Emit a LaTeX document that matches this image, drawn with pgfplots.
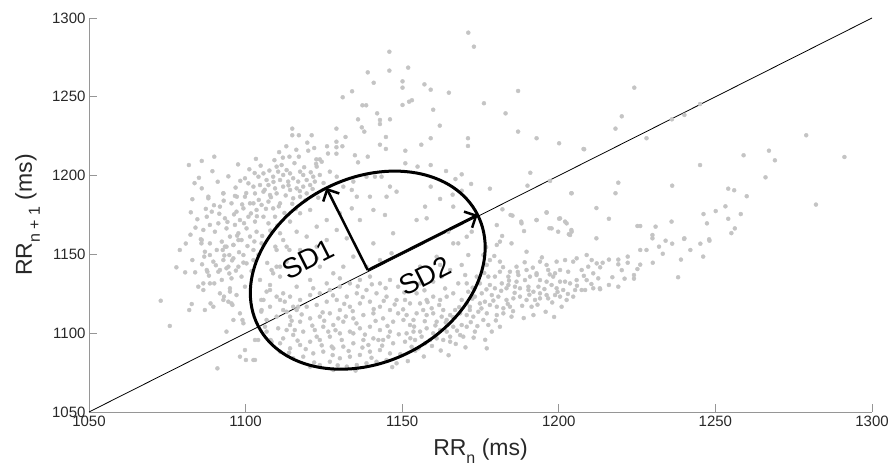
\documentclass[border=0pt]{standalone}
\usepackage{pgfplots}
\pgfplotsset{compat=1.18}
\usepackage{fontspec}
\setmainfont{Liberation Sans}
\usetikzlibrary{arrows.meta,shapes.geometric}
\definecolor{dotgray}{RGB}{196,196,196}
\definecolor{axgray}{RGB}{150,150,150}
\definecolor{txtgray}{RGB}{40,40,40}
\pgfplotstableread{
x y
1145.9 1278.6
1139.0 1265.5
1145.9 1266.6
1140.9 1258.9
1134.0 1253.5
1131.0 1249.7
1137.3 1244.6
1138.5 1244.6
1142.0 1239.5
1135.9 1235.7
1142.9 1235.3
1146.1 1235.7
1142.9 1232.7
1137.1 1230.6
1137.9 1227.9
1129.0 1229.8
1114.9 1229.8
1114.9 1225.6
1117.0 1225.6
1121.1 1225.6
1131.9 1224.5
1144.8 1224.5
1129.0 1221.5
1129.0 1218.0
1129.0 1213.9
1126.0 1218.6
1130.9 1218.6
1113.0 1218.6
1121.9 1217.5
1120.0 1215.8
1142.9 1219.6
1144.8 1216.9
1114.0 1212.0
1117.0 1212.0
1134.9 1212.9
1139.0 1212.0
1135.9 1208.4
1122.6 1210.3
1123.7 1210.3
1122.5 1207.4
1090.0 1212.0
1086.0 1209.3
1081.9 1206.7
1171.1 1290.7
1172.9 1281.8
1151.9 1268.5
1150.1 1259.8
1150.1 1255.8
1157.1 1257.9
1159.1 1254.5
1164.9 1252.6
1150.1 1244.8
1152.2 1246.9
1153.1 1247.8
1187.0 1253.7
1176.1 1245.9
1159.9 1241.8
1183.0 1239.5
1162.0 1231.7
1187.0 1227.9
1159.1 1223.7
1156.1 1219.6
1171.0 1223.7
1171.0 1218.8
1192.9 1223.7
1200.1 1220.5
1207.9 1216.9
1151.0 1215.8
1151.0 1207.8
1154.9 1205.7
1159.1 1206.7
1164.0 1202.9
1169.0 1200.8
1167.0 1197.8
1172.0 1194.7
1159.1 1193.0
1162.1 1185.2
1166.1 1187.9
1169.0 1190.4
1178.0 1191.7
1190.9 1201.8
1190.0 1193.6
1197.2 1196.6
1204.1 1188.8
1224.1 1255.8
1220.1 1237.6
1218.1 1229.8
1245.1 1245.4
1240.1 1238.5
1236.1 1235.7
1228.0 1223.7
1279.0 1225.6
1259.0 1212.9
1267.1 1215.8
1269.0 1209.7
1245.1 1206.7
1266.0 1198.9
1219.0 1195.5
1218.1 1188.8
1236.2 1193.6
1254.1 1191.7
1256.0 1190.7
1260.0 1186.9
1282.1 1181.6
1291.2 1211.8
1253.2 1180.5
1250.1 1177.5
1258.1 1175.6
1254.1 1172.6
1256.2 1166.5
1255.1 1163.5
1246.2 1175.6
1247.3 1169.7
1236.0 1170.8
1230.9 1167.6
1229.9 1162.3
1229.9 1160.2
1225.1 1168.0
1226.0 1168.0
1212.0 1179.4
1216.0 1172.6
1204.0 1188.8
1204.0 1165.5
1203.2 1162.8
1208.1 1216.7
1196.1 1176.7
1192.9 1171.8
1197.0 1166.6
1200.1 1172.6
1202.0 1170.8
1188.0 1170.8
1188.9 1164.8
1185.2 1174.6
1182.0 1178.6
1212.0 1160.2
1240.1 1160.2
1248.0 1159.6
1234.1 1158.7
1240.0 1159.8
1236.2 1156.8
1232.0 1154.9
1233.2 1150.4
1226.0 1152.8
1228.0 1152.8
1245.2 1156.8
1248.1 1158.7
1242.0 1152.8
1246.1 1148.6
1239.0 1146.7
1238.1 1135.5
1230.0 1144.7
1226.0 1143.5
1225.1 1140.7
1222.0 1148.6
1222.0 1144.7
1219.0 1146.7
1219.0 1143.7
1216.0 1146.7
1214.0 1144.7
1213.2 1141.8
1220.1 1140.0
1217.1 1135.5
1221.0 1134.6
1224.0 1136.9
1224.0 1134.6
1216.0 1130.6
1219.0 1129.5
1213.2 1127.9
1180.2 1168.6
1184.6 1175.0
1188.1 1169.7
1192.9 1171.8
1196.1 1176.5
1200.4 1172.9
1202.5 1169.7
1204.1 1164.4
1203.6 1162.3
1199.8 1164.4
1197.7 1166.5
1189.7 1151.7
1194.0 1145.4
1196.1 1143.3
1199.3 1145.4
1202.0 1146.4
1204.6 1145.4
1205.7 1147.5
1208.9 1149.6
1210.5 1146.4
1212.1 1144.3
1181.2 1158.1
1180.2 1156.0
1184.9 1157.0
1181.2 1145.4
1184.4 1139.0
1186.5 1142.2
1187.1 1136.9
1189.7 1140.1
1190.8 1135.9
1192.9 1138.0
1194.0 1133.7
1196.6 1140.1
1198.2 1135.9
1200.4 1132.7
1199.3 1128.5
1202.0 1132.7
1203.6 1131.6
1205.7 1133.7
1207.3 1127.4
1208.9 1133.7
1211.0 1138.0
1212.6 1134.8
1213.1 1128.5
1211.0 1128.5
1208.4 1127.4
1205.2 1127.4
1202.5 1121.1
1200.4 1123.2
1198.8 1124.2
1196.1 1124.2
1194.0 1125.3
1191.9 1126.3
1190.3 1127.4
1187.6 1128.5
1186.0 1129.5
1183.9 1130.6
1181.8 1131.6
1179.6 1128.5
1178.0 1130.6
1177.5 1135.9
1178.6 1124.2
1180.7 1123.2
1183.3 1121.1
1185.5 1122.1
1187.6 1123.2
1189.7 1121.1
1192.4 1121.1
1194.0 1122.1
1196.6 1122.1
1184.4 1116.8
1182.3 1115.8
1180.2 1116.8
1178.0 1117.9
1176.4 1120.0
1177.0 1112.6
1180.2 1111.5
1182.3 1112.6
1184.9 1110.5
1191.9 1111.5
1200.9 1116.8
1181.2 1104.1
1178.6 1101.0
1177.0 1090.4
1175.9 1108.4
1177.5 1105.2
1174.3 1113.6
1174.8 1118.9
1172.7 1110.5
1171.6 1116.8
1173.2 1123.2
1175.4 1125.3
1174.8 1131.6
1177.0 1143.3
1178.0 1146.4
1175.9 1149.6
1192.9 1136.9
1193.5 1129.5
1189.2 1133.7
1190.3 1129.5
1186.5 1132.7
1183.9 1135.9
1181.2 1139.0
1179.6 1135.9
1183.3 1128.5
1196.1 1132.7
1197.7 1130.6
1200.4 1140.1
1198.8 1138.0
1203.0 1139.0
1207.3 1140.1
1209.4 1142.2
1204.6 1123.2
1201.4 1127.4
1191.3 1116.8
1167.9 1131.6
1169.0 1121.1
1170.6 1118.9
1171.6 1114.7
1170.6 1111.5
1168.5 1112.6
1166.9 1114.7
1165.3 1111.5
1164.2 1108.4
1162.6 1110.5
1161.0 1107.3
1159.9 1112.6
1159.4 1115.8
1157.8 1111.5
1156.7 1114.7
1155.7 1118.9
1154.6 1112.6
1153.6 1108.4
1152.5 1105.2
1151.4 1111.5
1150.4 1108.4
1155.7 1101.0
1157.8 1103.1
1159.9 1099.9
1162.1 1102.0
1164.2 1101.0
1166.3 1104.1
1169.0 1105.2
1170.6 1104.1
1168.5 1098.8
1165.3 1097.8
1163.1 1095.7
1161.0 1096.7
1158.9 1095.7
1156.2 1097.8
1154.1 1095.7
1153.6 1101.0
1151.4 1099.9
1150.9 1094.6
1153.0 1091.4
1155.2 1090.4
1157.3 1093.6
1165.3 1094.6
1169.5 1097.8
1159.9 1123.2
1157.8 1121.1
1154.6 1125.3
1152.5 1118.9
1150.9 1121.1
1170.6 1131.6
1166.3 1125.3
1164.2 1123.2
1162.1 1121.1
1165.3 1140.1
1162.6 1135.9
1159.9 1132.7
1155.7 1131.6
1169.0 1143.3
1171.1 1149.6
1166.3 1157.0
1167.9 1157.0
1154.6 1171.8
1157.8 1172.9
1157.3 1180.3
1166.3 1180.3
1164.7 1164.4
1170.6 1161.2
1172.2 1164.4
1161.0 1148.5
1162.1 1143.3
1155.7 1142.2
1173.8 1135.9
1171.1 1126.3
1163.1 1114.7
1173.2 1101.0
1089.2 1177.1
1091.8 1180.3
1095.5 1182.4
1097.1 1177.1
1099.3 1179.2
1101.4 1182.4
1103.5 1178.2
1105.1 1181.4
1107.3 1183.5
1108.8 1179.2
1111.0 1182.4
1093.4 1172.9
1091.3 1169.7
1088.6 1168.7
1086.5 1165.5
1090.2 1164.4
1093.9 1166.5
1096.6 1168.7
1098.2 1171.8
1100.9 1173.9
1103.0 1170.8
1105.7 1173.9
1107.3 1169.7
1109.4 1173.9
1100.3 1166.5
1097.7 1163.4
1095.0 1161.3
1092.4 1158.1
1088.6 1157.0
1087.0 1151.7
1090.8 1152.8
1093.4 1154.9
1096.1 1156.0
1098.7 1159.1
1101.4 1161.3
1103.5 1164.4
1105.1 1157.0
1102.5 1152.8
1099.3 1149.6
1096.1 1147.5
1092.9 1146.4
1089.7 1145.4
1087.6 1140.1
1091.3 1139.0
1094.5 1142.2
1097.7 1142.2
1100.3 1144.3
1102.5 1146.4
1098.7 1135.9
1095.5 1134.8
1092.4 1133.8
1088.6 1131.6
1086.5 1127.4
1091.8 1125.3
1095.0 1128.5
1097.1 1124.2
1099.8 1129.5
1092.9 1121.1
1095.5 1118.9
1089.7 1116.8
1087.0 1114.7
1098.2 1112.6
1099.3 1106.3
1096.1 1108.4
1093.9 1101.0
1102.5 1083.0
1098.2 1085.1
1099.8 1089.3
1103.0 1095.7
1086.5 1131.6
1086.0 1159.1
1087.6 1173.9
1102.5 1182.4
1108.3 1140.1
1111.0 1142.2
1113.1 1145.4
1117.4 1152.8
1119.5 1161.3
1122.7 1167.6
1125.9 1171.8
1129.1 1165.5
1132.3 1160.2
1134.4 1148.6
1131.2 1142.2
1128.0 1138.0
1123.7 1142.2
1120.6 1133.8
1116.3 1129.5
1112.0 1125.3
1107.8 1127.4
1105.7 1121.1
1104.6 1133.8
1113.1 1154.9
1109.9 1152.8
1117.4 1176.1
1120.6 1178.2
1114.2 1170.8
1111.0 1163.4
1116.3 1164.4
1122.7 1154.9
1125.9 1159.1
1130.1 1176.1
1133.9 1179.2
1136.5 1171.8
1121.6 1128.5
1125.9 1131.6
1130.1 1134.8
1122.7 1147.5
1140.8 1178.2
1144.5 1175.0
1147.1 1163.4
1140.8 1157.0
1142.9 1146.4
1138.6 1142.2
1146.6 1150.7
1105.1 1114.7
1107.8 1116.8
1111.0 1121.1
1114.2 1123.2
1117.4 1121.1
1120.6 1124.2
1123.7 1125.3
1126.9 1127.4
1130.1 1129.5
1133.3 1131.6
1136.5 1133.8
1139.7 1135.9
1142.9 1131.6
1146.1 1133.8
1148.7 1129.5
1106.7 1108.4
1109.9 1110.5
1113.1 1113.6
1116.3 1114.7
1119.5 1116.8
1122.7 1117.9
1125.9 1120.0
1129.1 1121.1
1132.3 1123.2
1135.5 1125.3
1138.6 1127.4
1141.8 1125.3
1145.0 1123.2
1148.2 1121.1
1106.7 1101.0
1110.4 1103.1
1114.2 1105.2
1117.4 1107.3
1120.6 1109.4
1123.7 1110.5
1126.9 1112.6
1130.1 1114.7
1133.3 1116.8
1136.5 1118.9
1139.7 1120.0
1142.9 1116.8
1146.1 1114.7
1148.7 1112.6
1108.3 1094.6
1112.0 1096.7
1115.2 1098.9
1118.4 1101.0
1122.1 1102.0
1124.8 1104.1
1128.0 1105.2
1131.2 1107.3
1134.4 1109.4
1137.6 1111.5
1140.8 1112.6
1143.9 1109.4
1147.1 1107.3
1111.0 1088.3
1114.2 1090.4
1117.4 1092.5
1120.6 1094.6
1123.7 1095.7
1126.9 1097.8
1130.1 1099.9
1133.3 1101.0
1136.5 1103.1
1139.7 1104.1
1142.9 1102.0
1146.1 1101.0
1115.2 1084.1
1118.4 1085.1
1121.6 1087.2
1124.8 1088.3
1128.0 1090.4
1131.2 1091.5
1134.4 1093.6
1137.6 1095.7
1140.8 1096.7
1143.9 1095.7
1147.1 1093.6
1120.6 1078.8
1123.7 1079.8
1126.9 1081.9
1130.1 1084.1
1133.3 1085.1
1136.5 1086.2
1139.7 1088.3
1142.9 1089.3
1146.1 1087.2
1128.0 1076.7
1132.3 1078.8
1135.5 1079.8
1138.6 1080.9
1141.8 1081.9
1145.0 1083.0
1148.2 1080.9
1122.7 1097.8
1126.4 1101.0
1129.6 1109.4
1134.4 1099.9
1139.2 1092.5
1142.4 1095.7
1145.6 1097.8
1127.5 1091.5
1130.7 1095.7
1109.9 1205.7
1111.5 1206.7
1113.1 1203.5
1110.4 1202.5
1112.0 1200.4
1114.2 1201.4
1115.2 1198.3
1117.4 1202.5
1118.4 1200.4
1119.5 1197.2
1116.8 1196.2
1113.6 1196.2
1111.0 1197.2
1108.8 1199.3
1106.7 1197.2
1104.1 1199.3
1105.7 1201.4
1099.8 1198.3
1100.9 1195.1
1102.5 1193.0
1104.6 1194.0
1107.3 1194.0
1109.4 1191.9
1112.0 1193.0
1114.2 1190.9
1109.9 1188.7
1107.8 1187.7
1105.7 1189.8
1103.0 1188.7
1116.3 1191.9
1118.4 1193.0
1120.6 1194.0
1121.6 1199.3
1123.7 1200.4
1122.7 1205.7
1124.3 1208.8
1126.9 1202.5
1122.1 1196.2
1119.5 1188.7
1117.4 1186.6
1115.2 1185.6
1092.9 1188.7
1096.6 1187.1
1099.8 1186.6
1088.1 1186.6
1086.0 1191.9
1129.1 1199.3
1131.2 1193.0
1134.4 1196.2
1133.9 1190.9
1135.5 1186.6
1138.6 1199.3
1141.3 1199.3
1143.4 1199.3
1146.1 1193.0
1148.2 1189.8
1145.0 1186.6
1139.7 1186.6
1072.9 1120.6
1075.8 1104.6
1077.9 1141.8
1079.0 1152.8
1080.7 1138.6
1083.9 1138.6
1082.0 1114.7
1082.8 1118.5
1083.0 1146.4
1084.9 1129.5
1085.7 1159.6
1085.9 1157.0
1087.8 1139.0
1088.8 1118.9
1086.8 1148.6
1088.6 1149.6
1090.0 1131.6
1091.0 1077.7
1091.8 1140.1
1092.7 1152.8
1093.9 1154.9
1093.1 1123.2
1095.0 1126.4
1094.5 1120.0
1095.8 1117.9
1093.9 1141.2
1094.8 1149.6
1096.1 1156.0
1097.7 1159.1
1096.9 1139.7
1099.0 1108.4
1100.1 1083.0
1103.0 1083.0
1099.3 1144.8
1104.0 1095.7
1105.0 1121.1
1105.0 1113.7
1106.7 1126.4
1106.2 1104.1
1108.0 1095.7
1111.0 1093.6
1109.9 1123.2
1112.5 1120.0
1112.0 1114.7
1114.2 1110.5
1115.2 1116.8
1113.1 1102.0
1115.7 1102.0
1116.8 1116.8
1108.8 1138.0
1111.0 1135.9
1107.8 1130.6
1109.9 1142.2
1109.5 1154.9
1112.0 1159.1
1114.0 1152.8
1082.5 1176.7
1084.0 1167.0
1083.0 1185.0
1088.1 1185.6
1092.9 1188.8
1097.2 1186.6
1096.3 1175.4
1098.9 1181.7
1101.7 1176.0
1104.2 1184.6
1106.5 1178.9
1108.1 1186.3
1110.6 1180.5
1112.8 1187.4
1114.9 1182.1
1117.3 1190.2
1119.1 1184.3
1121.4 1191.5
1123.2 1186.0
1100.2 1188.9
1102.9 1201.6
1104.8 1206.3
1107.6 1203.2
1109.2 1209.8
1111.9 1211.4
1115.6 1207.9
1118.7 1205.3
1120.8 1202.1
1106.1 1191.0
1103.6 1174.2
1099.5 1169.8
1097.3 1161.9
1094.2 1170.6
1091.6 1175.8
1089.9 1181.2
1093.0 1184.1
1096.8 1192.4
1098.3 1196.7
1101.2 1204.0
1108.9 1196.0
1113.7 1193.8
1116.0 1178.8
1112.4 1176.3
1110.1 1168.2
1107.9 1165.1
1105.3 1161.7
1102.8 1158.2
1100.6 1155.3
1097.9 1151.4
1095.7 1146.2
1093.2 1149.3
1090.5 1143.1
1088.3 1136.5
1094.8 1137.9
1101.9 1139.4
1104.1 1149.8
1106.9 1144.6
1124.9 1195.3
1126.3 1214.0
1119.7 1220.9
1116.2 1216.4
1110.7 1214.9
1103.3 1210.6
1097.6 1207.1
1094.5 1199.5
1091.1 1196.1
1089.4 1202.8
1085.1 1198.6
1083.7 1195.2
1087.3 1178.9
1084.6 1172.3
1082.4 1162.5
1080.9 1156.9
1086.1 1143.7
1113.9 1087.6
1116.6 1095.3
1119.2 1089.9
1121.9 1081.4
1124.3 1092.3
1127.8 1086.1
1129.4 1079.6
1132.9 1088.7
1135.1 1076.3
1137.3 1090.9
1140.2 1084.4
1143.6 1092.1
1146.8 1078.5
1149.4 1086.7
1151.8 1082.3
1154.2 1088.9
1156.9 1085.2
1159.5 1091.9
1162.3 1089.0
1164.8 1086.0
1167.1 1093.2
1170.2 1091.0
1152.6 1096.8
1148.9 1099.3
1145.3 1104.6
1141.5 1107.8
1138.1 1099.1
1135.4 1106.2
1132.0 1110.6
1128.7 1101.9
1125.1 1107.9
1121.3 1104.8
1117.9 1111.9
1114.7 1107.9
1150.3 1115.1
1147.6 1118.2
1144.1 1120.5
1140.9 1115.3
1137.4 1122.9
1134.2 1114.0
1131.5 1118.6
1127.9 1124.0
1124.6 1113.2
1153.8 1104.2
1157.2 1107.6
1160.6 1104.9
1163.9 1106.8
1167.5 1101.6
1171.9 1107.0
1174.0 1104.5
1172.8 1097.2
1166.2 1110.2
1161.8 1117.9
1158.1 1119.7
1168.2 1116.5
1172.4 1121.9
1175.3 1115.7
1163.7 1128.4
1157.1 1127.2
1150.7 1125.9
1144.7 1128.6
1140.3 1131.0
1135.8 1129.7
1176.9 1127.8
1179.1 1120.7
1181.6 1126.9
1183.7 1118.6
1185.9 1125.6
1188.3 1117.4
1190.6 1124.4
1193.2 1118.1
1195.4 1128.0
1197.9 1119.5
1199.6 1126.2
1202.9 1124.9
1205.8 1130.1
1208.0 1136.4
1210.4 1131.2
1184.1 1133.4
1186.9 1138.9
1189.1 1145.0
1191.7 1141.6
1194.6 1148.1
1197.1 1137.3
1182.2 1141.9
1179.4 1149.0
1176.2 1138.2
1188.8 1109.6
1185.4 1114.0
1179.9 1108.1
1195.8 1113.6
1198.5 1110.3
1176.5 1095.8
1172.5 1128.9
1170.1 1136.9
1176.8 1154.6
1181.9 1161.7
}\rrdata
\begin{document}
\begin{tikzpicture}
\useasboundingbox (0,0) rectangle (891pt,468pt);
\begin{axis}[
  at={(89pt,56pt)}, anchor=south west,
  scale only axis, width=783pt, height=394pt,
  xmin=1050, xmax=1300, ymin=1050, ymax=1300,
  axis x line*=bottom, axis y line*=left,
  axis line style={axgray, line width=0.9pt},
  tick align=inside, major tick length=8pt,
  tick style={axgray, line width=0.9pt},
  xtick={1050,1100,...,1300}, ytick={1050,1100,...,1300},
  /pgf/number format/assume math mode=true,
  /pgf/number format/set thousands separator={},
  ticklabel style={font=\fontsize{15}{18}\selectfont, text=txtgray},
  xlabel={RR\raisebox{-8pt}{\fontsize{16}{16}\selectfont n} (ms)},
  ylabel={RR\raisebox{-8pt}{\fontsize{16}{16}\selectfont n + 1} (ms)},
  label style={font=\fontsize{23}{26}\selectfont, text=txtgray},
  xlabel style={at={([yshift=-44pt]axis description cs:0.5,0)}, anchor=base},
  ylabel style={at={([xshift=-57pt]axis description cs:0,0.5)}, anchor=base},
  clip=false,
]
\addplot[black, line width=0.8pt] coordinates {(1050,1050) (1300,1300)};
\addplot[only marks, mark=*, mark size=2pt, color=dotgray, draw=dotgray, fill=dotgray, mark options={draw=dotgray, fill=dotgray}] table {\rrdata};
\coordinate (C) at (axis cs:1139,1140);
\coordinate (T2) at (axis cs:1174.1,1175.1);
\coordinate (T1) at (axis cs:1125.8,1192.2);
\coordinate (L1) at (axis cs:1120.0,1146.9);
\coordinate (L2) at (axis cs:1157.3,1136.3);
\end{axis}
\node[draw, ellipse, line width=3pt, minimum width=246pt, minimum height=184pt, inner sep=0pt, rotate=26.71] at (C) {};
\draw[line width=2.5pt, -{Straight Barb[length=9pt,width=18pt]}] (C) -- (T2);
\draw[line width=2.5pt, -{Straight Barb[length=9pt,width=18pt]}] (C) -- (T1);
\node[rotate=26.71, font=\fontsize{28}{30}\selectfont] at (L1) {SD1};
\node[rotate=26.71, font=\fontsize{28}{30}\selectfont] at (L2) {SD2};
\end{tikzpicture}
\end{document}
